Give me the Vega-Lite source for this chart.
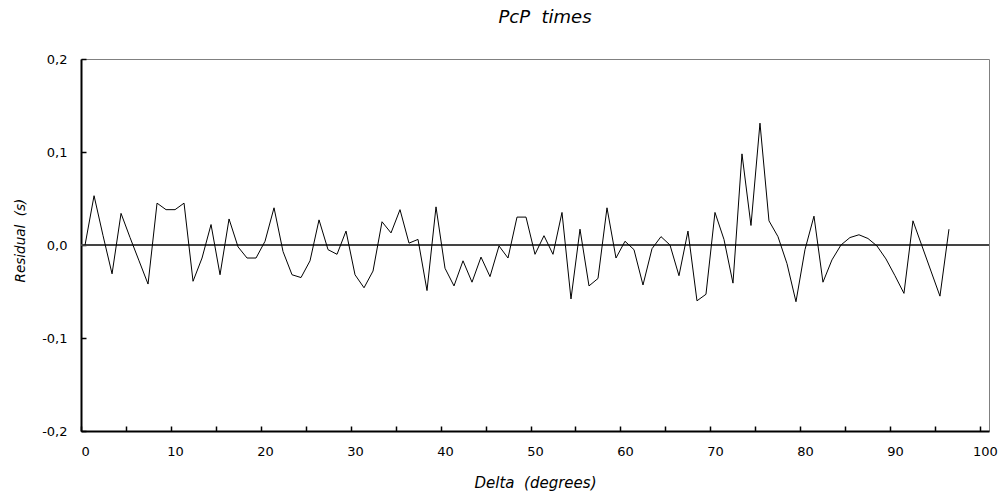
{
  "$schema": "https://vega.github.io/schema/vega-lite/v6.json",
  "autosize": {"type": "none"},
  "padding": {"left": 81, "top": 59, "right": 13, "bottom": 64},
  "width": 908,
  "height": 372,
  "background": "white",
  "title": {"text": "PcP \u00a0times", "font": "DejaVu Sans", "fontSize": 18, "fontStyle": "italic", "fontWeight": "normal", "color": "black", "anchor": "middle", "dx": 10, "offset": 26},
  "config": {
    "view": {"stroke": "#808080", "strokeWidth": 1},
    "axis": {"labelFont": "DejaVu Sans", "labelFontSize": 13, "labelColor": "black", "titleFont": "DejaVu Sans", "titleFontSize": 15, "titleFontStyle": "italic", "titleFontWeight": "normal", "titleColor": "black", "domainColor": "black", "domainWidth": 2, "tickColor": "black", "tickWidth": 1.5, "grid": false}
  },
  "data": {"values": [
    {"delta": 0, "residual": 0.000}, {"delta": 1, "residual": 0.053}, {"delta": 2, "residual": 0.010}, {"delta": 3, "residual": -0.031}, {"delta": 4, "residual": 0.034},
    {"delta": 5, "residual": 0.008}, {"delta": 6, "residual": -0.017}, {"delta": 7, "residual": -0.042}, {"delta": 8, "residual": 0.045}, {"delta": 9, "residual": 0.038},
    {"delta": 10, "residual": 0.038}, {"delta": 11, "residual": 0.045}, {"delta": 12, "residual": -0.039}, {"delta": 13, "residual": -0.014}, {"delta": 14, "residual": 0.022},
    {"delta": 15, "residual": -0.032}, {"delta": 16, "residual": 0.028}, {"delta": 17, "residual": -0.002}, {"delta": 18, "residual": -0.014}, {"delta": 19, "residual": -0.014},
    {"delta": 20, "residual": 0.004}, {"delta": 21, "residual": 0.040}, {"delta": 22, "residual": -0.007}, {"delta": 23, "residual": -0.032}, {"delta": 24, "residual": -0.035},
    {"delta": 25, "residual": -0.017}, {"delta": 26, "residual": 0.027}, {"delta": 27, "residual": -0.005}, {"delta": 28, "residual": -0.010}, {"delta": 29, "residual": 0.015},
    {"delta": 30, "residual": -0.032}, {"delta": 31, "residual": -0.046}, {"delta": 32, "residual": -0.028}, {"delta": 33, "residual": 0.025}, {"delta": 34, "residual": 0.013},
    {"delta": 35, "residual": 0.038}, {"delta": 36, "residual": 0.002}, {"delta": 37, "residual": 0.006}, {"delta": 38, "residual": -0.049}, {"delta": 39, "residual": 0.041},
    {"delta": 40, "residual": -0.025}, {"delta": 41, "residual": -0.044}, {"delta": 42, "residual": -0.017}, {"delta": 43, "residual": -0.040}, {"delta": 44, "residual": -0.013},
    {"delta": 45, "residual": -0.034}, {"delta": 46, "residual": -0.001}, {"delta": 47, "residual": -0.014}, {"delta": 48, "residual": 0.030}, {"delta": 49, "residual": 0.030},
    {"delta": 50, "residual": -0.010}, {"delta": 51, "residual": 0.010}, {"delta": 52, "residual": -0.010}, {"delta": 53, "residual": 0.035}, {"delta": 54, "residual": -0.058},
    {"delta": 55, "residual": 0.017}, {"delta": 56, "residual": -0.044}, {"delta": 57, "residual": -0.036}, {"delta": 58, "residual": 0.040}, {"delta": 59, "residual": -0.014},
    {"delta": 60, "residual": 0.004}, {"delta": 61, "residual": -0.005}, {"delta": 62, "residual": -0.043}, {"delta": 63, "residual": -0.004}, {"delta": 64, "residual": 0.009},
    {"delta": 65, "residual": 0.000}, {"delta": 66, "residual": -0.033}, {"delta": 67, "residual": 0.015}, {"delta": 68, "residual": -0.060}, {"delta": 69, "residual": -0.053},
    {"delta": 70, "residual": 0.035}, {"delta": 71, "residual": 0.006}, {"delta": 72, "residual": -0.041}, {"delta": 73, "residual": 0.098}, {"delta": 74, "residual": 0.021},
    {"delta": 75, "residual": 0.131}, {"delta": 76, "residual": 0.026}, {"delta": 77, "residual": 0.009}, {"delta": 78, "residual": -0.020}, {"delta": 79, "residual": -0.061},
    {"delta": 80, "residual": -0.005}, {"delta": 81, "residual": 0.031}, {"delta": 82, "residual": -0.040}, {"delta": 83, "residual": -0.016}, {"delta": 84, "residual": 0.000},
    {"delta": 85, "residual": 0.008}, {"delta": 86, "residual": 0.011}, {"delta": 87, "residual": 0.007}, {"delta": 88, "residual": -0.001}, {"delta": 89, "residual": -0.015},
    {"delta": 90, "residual": -0.033}, {"delta": 91, "residual": -0.052}, {"delta": 92, "residual": 0.026}, {"delta": 93, "residual": -0.001}, {"delta": 94, "residual": -0.028},
    {"delta": 95, "residual": -0.055}, {"delta": 96, "residual": 0.017}
  ]},
  "layer": [
    {
      "mark": {"type": "rule", "color": "#444", "strokeWidth": 0.8},
      "encoding": {"y": {"datum": 0, "type": "quantitative", "scale": {"domain": [-0.2, 0.2]}}}
    },
    {
      "mark": {"type": "line", "color": "black", "strokeWidth": 1, "clip": true},
      "encoding": {
        "x": {"field": "delta", "type": "quantitative", "title": "Delta \u00a0(degrees)",
          "scale": {"domain": [-0.45, 100.45], "nice": false, "zero": false},
          "axis": {"values": [0,5,10,15,20,25,30,35,40,45,50,55,60,65,70,75,80,85,90,95,100], "tickSize": -5, "tickOffset": -4.5, "labelOffset": 4.5, "labelPadding": 19, "labelExpr": "datum.value % 10 == 0 ? datum.label : ''", "titlePadding": 17}},
        "y": {"field": "residual", "type": "quantitative", "title": "Residual \u00a0(s)",
          "scale": {"domain": [-0.2, 0.2], "nice": false},
          "axis": {"values": [-0.2, -0.1, 0, 0.1, 0.2], "tickSize": -5, "labelPadding": 19, "labelExpr": "replace(replace(format(datum.value, '.1f'), '.', ','), '\u2212', '-')", "titleFontSize": 13.5, "titlePadding": 14, "titleY": 181}}
      }
    }
  ]
}
